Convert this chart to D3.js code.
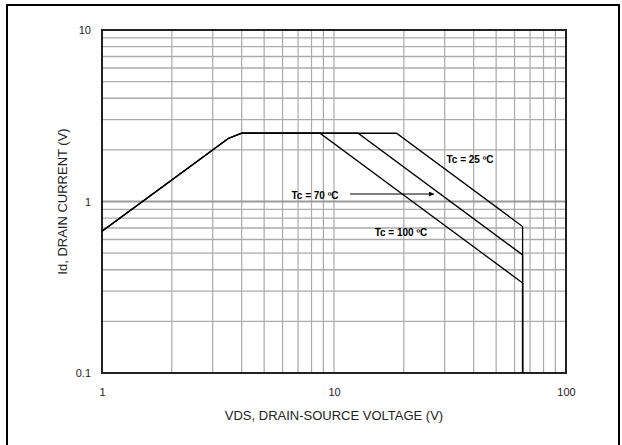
<!DOCTYPE html>
<html>
<head>
<meta charset="utf-8">
<script src="https://cdn.jsdelivr.net/npm/d3@7"></script>
<style>
  body { margin: 0; background: #fff; }
  text { font-family: "Liberation Sans", Arial, sans-serif; }
</style>
</head>
<body>
<div id="chart"></div>
<script>
// tick labels and grid values
let xTicks = [1, 10, 100];
let yTicks = [0.1, 1, 10];
let xGrid = [2, 3, 4, 5, 6, 7, 8, 9, 10, 20, 30, 40, 50, 60, 70, 80, 90];
let yGrid = [0.2, 0.3, 0.4, 0.5, 0.6, 0.7, 0.8, 0.9, 2, 3, 4, 5, 6, 7, 8, 9];

// safe operating area curves (VDS in V, Id)
let seriesNames = ["Tc = 25 ºC", "Tc = 70 ºC", "Tc = 100 ºC"];
let vds25 = [1, 3.5, 4, 18.6, 65, 65];
let id25 = [0.67, 2.33, 2.5, 2.5, 0.715, 0.1];
let vds70 = [1, 3.5, 4, 12.7, 65, 65];
let id70 = [0.67, 2.33, 2.5, 2.5, 0.488, 0.1];
let vds100 = [1, 3.5, 4, 8.7, 65, 65];
let id100 = [0.67, 2.33, 2.5, 2.5, 0.335, 0.1];

let svgWidth = 622;
let svgHeight = 445;
let margin = { top: 30, left: 102 };
let width = 464;
let height = 343;

let svg = d3.select("#chart")
  .append("svg")
  .attr("width", svgWidth)
  .attr("height", svgHeight);

// outer frame (bottom edge falls outside the picture)
svg.append("rect")
  .attr("x", 7).attr("y", 5)
  .attr("width", 612).attr("height", 470)
  .attr("fill", "none")
  .attr("stroke", "#000")
  .attr("stroke-width", 2);

let chartGroup = svg.append("g")
  .attr("transform", `translate(${margin.left}, ${margin.top})`);

let xScale = d3.scaleLog().domain([1, 100]).range([0, width]);
let yScale = d3.scaleLog().domain([0.1, 10]).range([height, 0]);

// grid
chartGroup.append("g")
  .selectAll("line")
  .data(xGrid)
  .enter()
  .append("line")
  .attr("x1", d => xScale(d)).attr("x2", d => xScale(d))
  .attr("y1", 0).attr("y2", height)
  .attr("stroke", "#aaa")
  .attr("stroke-width", 1.2);

chartGroup.append("g")
  .selectAll("line")
  .data(yGrid)
  .enter()
  .append("line")
  .attr("x1", 0).attr("x2", width)
  .attr("y1", d => yScale(d)).attr("y2", d => yScale(d))
  .attr("stroke", "#aaa")
  .attr("stroke-width", 1.4);

chartGroup.append("line")
  .attr("x1", 0).attr("x2", width)
  .attr("y1", yScale(1)).attr("y2", yScale(1))
  .attr("stroke", "#999")
  .attr("stroke-width", 2);

// plot frame
chartGroup.append("rect")
  .attr("width", width).attr("height", height)
  .attr("fill", "none")
  .attr("stroke", "#222")
  .attr("stroke-width", 2);

// axes (labels only)
let bottomAxis = d3.axisBottom(xScale)
  .tickValues(xTicks)
  .tickSize(0)
  .tickPadding(15)
  .tickFormat(d3.format("d"));
let leftAxis = d3.axisLeft(yScale)
  .tickValues(yTicks)
  .tickSize(0)
  .tickPadding(11)
  .tickFormat(d => d < 1 ? "0.1" : d3.format("d")(d));

chartGroup.append("g")
  .attr("transform", `translate(0, ${height})`)
  .call(bottomAxis)
  .call(g => g.select(".domain").remove())
  .selectAll("text")
  .attr("font-size", 11)
  .attr("fill", "#222");

chartGroup.append("g")
  .call(leftAxis)
  .call(g => g.select(".domain").remove())
  .selectAll("text")
  .attr("font-size", 11)
  .attr("fill", "#222");

// curves
let line = d3.line()
  .x(d => xScale(d[0]))
  .y(d => yScale(d[1]));

let curves = [
  d3.zip(vds25, id25),
  d3.zip(vds70, id70),
  d3.zip(vds100, id100)
];

chartGroup.selectAll(".curve")
  .data(curves)
  .enter()
  .append("path")
  .attr("class", "curve")
  .attr("d", line)
  .attr("fill", "none")
  .attr("stroke", "#000")
  .attr("stroke-width", 1.3);

// annotations
let labelPos = [[470, 163], [315, 199], [401, 236]];
svg.selectAll(".tclabel")
  .data(seriesNames)
  .enter()
  .append("text")
  .attr("class", "tclabel")
  .attr("x", (d, i) => labelPos[i][0])
  .attr("y", (d, i) => labelPos[i][1])
  .attr("text-anchor", "middle")
  .attr("font-size", 10)
  .attr("font-weight", "bold")
  .attr("fill", "#000")
  .text(d => d);

svg.append("defs").append("marker")
  .attr("id", "arrow")
  .attr("viewBox", "0 0 10 10")
  .attr("refX", 10).attr("refY", 5)
  .attr("markerWidth", 8).attr("markerHeight", 5)
  .attr("markerUnits", "userSpaceOnUse")
  .attr("orient", "auto")
  .append("path")
  .attr("d", "M0,0L10,5L0,10Z")
  .attr("fill", "#000");

svg.append("line")
  .attr("x1", 350).attr("x2", 434)
  .attr("y1", 194).attr("y2", 194)
  .attr("stroke", "#000")
  .attr("stroke-width", 1)
  .attr("marker-end", "url(#arrow)");

// axis titles
svg.append("text")
  .attr("x", margin.left + width / 2)
  .attr("y", 420)
  .attr("text-anchor", "middle")
  .attr("font-size", 13)
  .attr("fill", "#222")
  .text("VDS, DRAIN-SOURCE VOLTAGE (V)");

svg.append("text")
  .attr("transform", "rotate(-90)")
  .attr("x", -(margin.top + height / 2))
  .attr("y", 67)
  .attr("text-anchor", "middle")
  .attr("font-size", 13)
  .attr("fill", "#222")
  .text("Id, DRAIN CURRENT (V)");
</script>
</body>
</html>
